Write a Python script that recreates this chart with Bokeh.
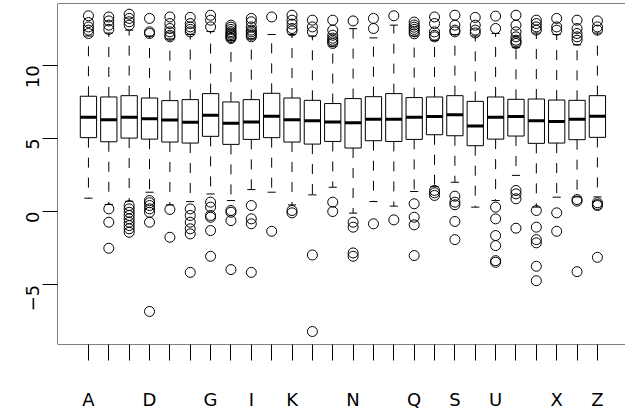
import math
from bokeh.plotting import figure
from bokeh.models import Range1d, FixedTicker, ColumnDataSource, Span
from bokeh.embed import file_html
from bokeh.resources import INLINE

cats = list("ABCDEFGHIJKLMNOPQRSTUVWXYZ")
shown = ["A", "D", "G", "I", "K", "N", "Q", "S", "U", "X", "Z"]
yticks = [-5, 0, 5, 10]

med = [6.44, 6.28, 6.44, 6.35, 6.25, 6.10, 6.58, 6.03, 6.12, 6.51, 6.28, 6.21, 6.12,
       6.07, 6.30, 6.30, 6.44, 6.49, 6.62, 5.84, 6.44, 6.49, 6.21, 6.16, 6.30, 6.51]
q1 = [5.05, 4.77, 5.02, 4.95, 4.75, 4.68, 5.14, 4.59, 4.93, 5.05, 4.75, 4.61, 4.79,
      4.34, 4.84, 4.79, 4.93, 5.25, 5.18, 4.50, 4.95, 5.16, 4.66, 4.68, 4.91, 5.07]
q3 = [7.88, 7.83, 7.92, 7.76, 7.58, 7.65, 8.06, 7.49, 7.65, 8.08, 7.76, 7.60, 7.38,
      7.72, 7.85, 8.06, 7.79, 7.83, 7.92, 7.53, 7.83, 7.67, 7.69, 7.62, 7.60, 7.92]
hi = [12.0, 12.2, 12.4, 12.0, 11.8, 12.1, 12.3, 11.7, 11.8, 12.1, 12.1, 12.0, 11.3,
      12.5, 11.87, 12.74, 12.0, 11.7, 12.1, 12.0, 12.17, 11.2, 12.2, 12.1, 11.4, 12.2]
lo = [0.91, 0.48, 0.7, 1.32, 0.45, 0.68, 1.2, 0.75, 1.5, 1.32, 0.45, 1.14, 1.66,
      -0.11, 0.68, 0.37, 1.37, 1.7, 2.0, 0.30, 0.75, 2.47, 0.3, 0.98, 1.0, 1.0]
outliers = [
    [13.38, 12.92, 12.62, 12.40, 12.17],
    [13.3, 13.03, 12.74, 12.45, 0.18, -0.73, -2.51],
    [13.49, 13.2, 12.97, 12.74, 0.41, 0.18, -0.05, -0.27, -0.5, -0.73, -0.96, -1.18, -1.42],
    [13.2, 12.28, 12.17, 0.75, 0.6, 0.41, 0.18, -0.05, -0.73, -6.83],
    [13.3, 12.85, 12.51, 12.28, 12.05, 11.94, 0.14, -1.76],
    [13.27, 12.85, 12.62, 12.45, 12.28, 0.18, -0.27, -0.73, -1.18, -1.53, -4.16],
    [13.42, 13.08, 12.62, 0.64, 0.30, -0.27, -0.39, -1.3, -3.06],
    [12.74, 12.6, 12.45, 12.3, 12.2, 12.1, 12.0, 11.9, 11.83, 0.07, -0.05, -0.62, -3.97],
    [13.2, 12.97, 12.62, 12.4, 12.28, 12.15, 12.05, 11.94, 0.41, -0.5, -0.84, -4.16],
    [13.3, -1.35],
    [13.42, 13.08, 12.81, 12.51, 12.35, 0.07, -0.09],
    [13.08, 12.62, 12.28, -2.97, -8.2],
    [13.08, 12.4, 12.05, 11.85, 11.71, 11.6, 11.49, 0.64, 0.0],
    [13.03, -0.73, -1.07, -2.83, -3.06],
    [13.2, 12.51, -0.84],
    [13.38, -0.57],
    [12.95, 12.75, 12.6, 12.45, 12.3, 12.15, 0.53, -0.39, -0.91, -3.01],
    [13.3, 12.85, 12.28, 12.05, 11.94, 1.44, 1.28, 1.10],
    [13.42, 12.74, 12.4, 12.28, 1.05, 0.64, 0.46, -0.68, -1.92],
    [13.27, 12.74, 12.4, 12.21],
    [13.36, 12.51, 0.3, -0.5, -1.64, -2.33, -3.36, -3.47],
    [13.42, 12.74, 12.28, 11.94, 11.71, 11.6, 11.49, 1.44, 1.21, 0.87, -1.14],
    [13.08, 12.85, 12.62, 12.40, 0.07, -1.07, -1.92, -2.14, -3.74, -4.73],
    [13.2, 12.62, 12.40, -0.09, -1.35],
    [13.08, 12.51, 12.17, 11.94, 11.71, 0.82, 0.71, -4.11],
    [13.03, 12.62, 12.40, 0.6, 0.48, 0.41, -3.13],
]

BOXW = 0.8
STAPLE = 0.4
XMIN, XMAX = -0.52, 27.38
YMIN, YMAX = -9.09, 14.22
pos = list(range(1, len(cats) + 1))

src = ColumnDataSource(dict(
    x=pos, q1=q1, q3=q3, med=med, lo=lo, hi=hi,
    xl=[v - BOXW / 2 for v in pos], xr=[v + BOXW / 2 for v in pos],
    sl=[v - STAPLE / 2 for v in pos], sr=[v + STAPLE / 2 for v in pos],
))

ox, oy = [], []
for i, vals in enumerate(outliers):
    for v in vals:
        ox.append(pos[i])
        oy.append(v)

p = figure(width=625, height=413, output_backend="svg", toolbar_location=None,
           x_range=Range1d(XMIN, XMAX), y_range=Range1d(YMIN, YMAX),
           min_border_left=57, min_border_right=0, min_border_top=3,
           min_border_bottom=69)
p.background_fill_color = "white"
p.border_fill_color = "white"
p.grid.visible = False
p.outline_line_color = None

# plot frame: top, bottom and left edges (right edge falls outside the picture)
for loc, dim in ((YMAX, "width"), (YMIN, "width"), (XMIN, "height")):
    p.add_layout(Span(location=loc, dimension=dim, line_color="black", line_width=1))

# whiskers
p.segment(x0="x", y0="q3", x1="x", y1="hi", source=src, line_color="black",
          line_width=1, line_dash="10 10")
p.segment(x0="x", y0="q1", x1="x", y1="lo", source=src, line_color="black",
          line_width=1, line_dash="10 10")
# staples
p.segment(x0="sl", y0="hi", x1="sr", y1="hi", source=src, line_color="black", line_width=1)
p.segment(x0="sl", y0="lo", x1="sr", y1="lo", source=src, line_color="black", line_width=1)
# boxes
p.vbar(x="x", width=BOXW, bottom="q1", top="q3", source=src, fill_color="white",
       line_color="black", line_width=1)
# medians
p.segment(x0="xl", y0="med", x1="xr", y1="med", source=src, line_color="black",
          line_width=3, line_cap="butt")
# outliers
p.scatter(ox, oy, marker="circle", size=10, fill_color=None, line_color="black",
          line_width=1)

font = "DejaVu Sans"
ax = p.xaxis[0]
ax.ticker = FixedTicker(ticks=pos)
ax.major_label_overrides = {pos[i]: (c if c in shown else "") for i, c in enumerate(cats)}
ax.axis_line_color = None
ax.major_tick_out = 16
ax.major_tick_in = 0
ax.minor_tick_line_color = None
ax.major_tick_line_color = "black"
ax.major_label_standoff = 28
ax.major_label_text_font = font
ax.major_label_text_font_size = "18px"
ax.major_label_text_color = "black"

ay = p.yaxis[0]
ay.ticker = FixedTicker(ticks=yticks)
ay.axis_line_color = None
ay.major_tick_out = 15
ay.major_tick_in = 0
ay.minor_tick_line_color = None
ay.major_tick_line_color = "black"
ay.major_label_orientation = math.pi / 2
ay.major_label_standoff = 10
ay.major_label_text_font = font
ay.major_label_text_font_size = "18px"
ay.major_label_text_color = "black"

open("out.html", "w").write(file_html(p, INLINE))
